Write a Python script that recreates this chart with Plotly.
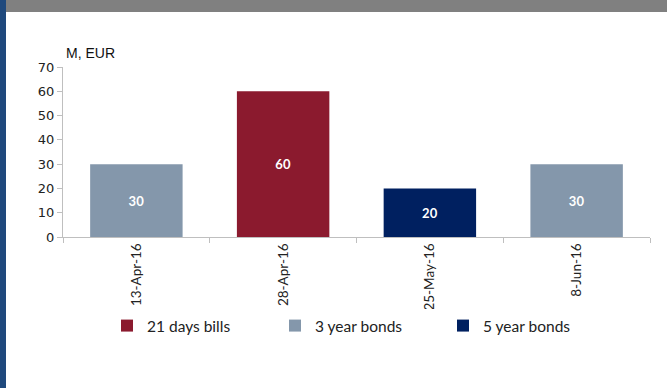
import plotly.graph_objects as go

dates = ["13-Apr-16", "28-Apr-16", "25-May-16", "8-Jun-16"]
bills_21d = [None, 60, None, None]
bonds_3y = [30, None, None, 30]
bonds_5y = [None, None, 20, None]
y_ticks = [0, 10, 20, 30, 40, 50, 60, 70]

W, H = 667, 388
L, R, T, B = 63, 650, 67, 237

def px(xp):
    return (xp - L) / (R - L)

def py(yp):
    return (B - yp) / (B - T)

fig = go.Figure()
series = [
    ("21 days bills", bills_21d, "#8B1A2E"),
    ("3 year bonds", bonds_3y, "#8497AB"),
    ("5 year bonds", bonds_5y, "#002060"),
]
for name, vals, col in series:
    fig.add_trace(go.Bar(
        x=dates, y=vals, name=name, marker=dict(color=col, line=dict(width=0)),
        text=[("<b>%d</b>" % v) if v is not None else "" for v in vals],
        textposition="inside", insidetextanchor="middle", textangle=0,
        textfont=dict(color="white", size=13, family="Lato"),
        width=0.63,
    ))

fig.update_layout(
    width=W, height=H,
    margin=dict(l=L, r=W - R, t=T, b=H - B),
    barmode="overlay",
    plot_bgcolor="white", paper_bgcolor="white",
    showlegend=True,
    legend=dict(orientation="h", x=px(107), y=py(326), yanchor="middle", xanchor="left",
                font=dict(family="Lato", size=15.5, color="#222"),
                entrywidth=123, itemwidth=30, traceorder="normal"),
    xaxis=dict(type="category", showline=True, linecolor="#BFBFBF", linewidth=1,
               ticks="outside", tickson="boundaries", ticklen=5, tickcolor="#BFBFBF",
               tickangle=-90, tickfont=dict(family="Lato", size=13.5, color="#222"),
               showgrid=False, range=[-0.5, 3.5]),
    yaxis=dict(range=[0, 70], tickvals=y_ticks, showline=True, linecolor="#BFBFBF",
               linewidth=1, ticks="outside", ticklen=5, tickcolor="#BFBFBF",
               tickfont=dict(family="DejaVu Sans", size=13, color="#222"),
               showgrid=False, zeroline=False),
    font=dict(family="Lato"),
    shapes=[
        dict(type="rect", xref="paper", yref="paper", x0=px(0), x1=px(W), y0=py(12), y1=py(0),
             fillcolor="#808080", line=dict(width=0), layer="above"),
        dict(type="rect", xref="paper", yref="paper", x0=px(0), x1=px(6), y0=py(H), y1=py(0),
             fillcolor="#1F497D", line=dict(width=0), layer="above"),
    ],
    annotations=[
        dict(text="M, EUR", xref="paper", yref="paper", x=px(64), y=py(53), xanchor="left",
             yanchor="middle", showarrow=False, font=dict(family="Liberation Sans", size=14, color="#111")),
    ],
)

fig.write_html("out.html")
